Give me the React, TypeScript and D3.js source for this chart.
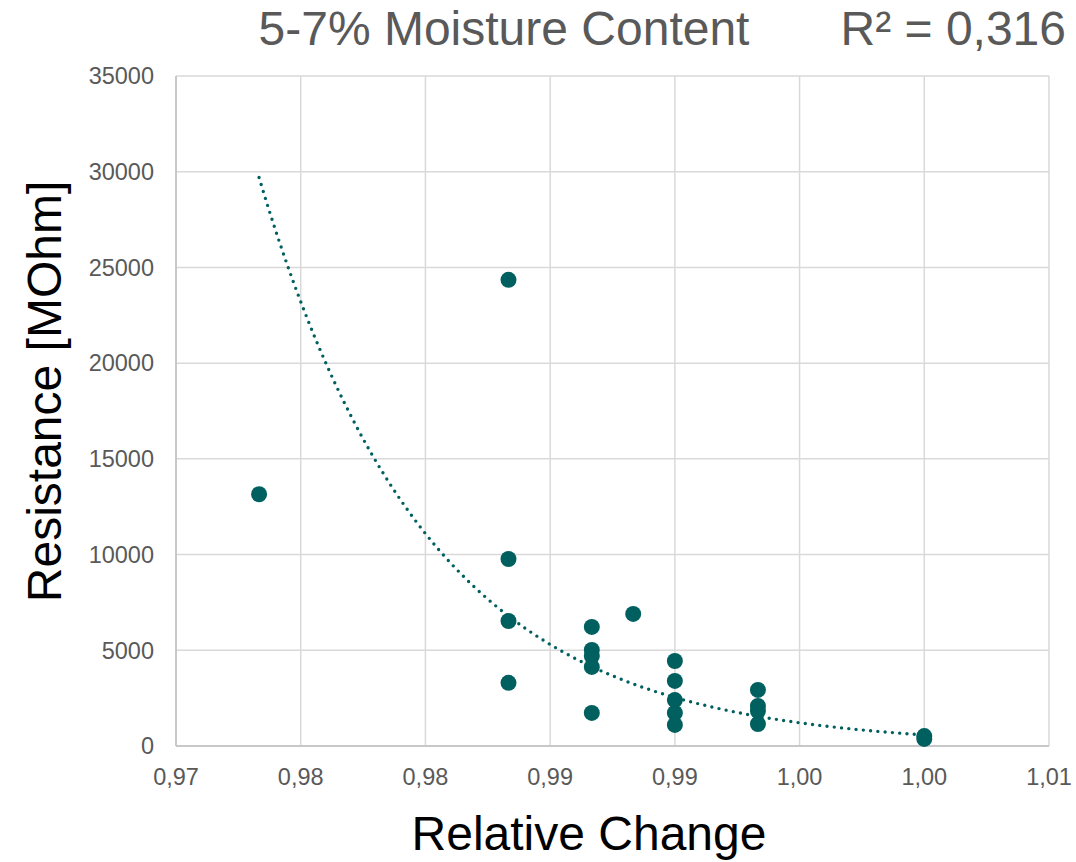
import React from "react";
import * as d3 from "d3";

const xValues = [
  0.97333, 0.98333, 0.98333, 0.98333, 0.98333,
  0.98667, 0.98667, 0.98667, 0.98667, 0.98667,
  0.98833,
  0.99, 0.99, 0.99, 0.99, 0.99,
  0.99333, 0.99333, 0.99333, 0.99333,
  1.0, 1.0,
];
const yValues = [
  13150, 24350, 9770, 6530, 3300,
  6220, 5020, 4700, 4130, 1730,
  6900,
  4440, 3400, 2400, 1730, 1100,
  2930, 2090, 1830, 1150,
  520, 370,
];
const xTicks = [0.97, 0.975, 0.98, 0.985, 0.99, 0.995, 1.0, 1.005];
const yTicks = [0, 5000, 10000, 15000, 20000, 25000, 30000, 35000];
// exponential trendline as drawn: y = trendStart * exp(trendRate * (x - x0))
const trendStart = 29700;
const trendRate = -147.6;
const titleText = "5-7% Moisture Content";
const r2Text = "R² = 0,316";
const xTitle = "Relative Change";
const yTitle = "Resistance [MOhm]";

export default function App() {
  const W = 1076, H = 862;
  const left = 176, right = 1049, top = 76, bottom = 746;
  const x = d3.scaleLinear().domain([0.97, 1.005]).range([left, right]);
  const y = d3.scaleLinear().domain([0, 35000]).range([bottom, top]);

  const x0 = d3.min(xValues)!, x1 = d3.max(xValues)!;
  const trend = d3.range(0, 201).map((i) => {
    const xv = x0 + ((x1 - x0) * i) / 200;
    return [xv, trendStart * Math.exp(trendRate * (xv - x0))] as [number, number];
  });
  const line = d3.line<[number, number]>().x((d) => x(d[0])).y((d) => y(d[1]));

  const fmtX = (v: number) => (Math.round(v * 100 + 1e-9) / 100).toFixed(2).replace(".", ",");

  const font = "'Liberation Sans', Arial, sans-serif";
  return (
    <svg width={W} height={H} style={{ position: "absolute", left: 0, top: 0, background: "#fff" }} fontFamily={font}>
      <rect x={0} y={0} width={W} height={H} fill="#fff" />
      {xTicks.map((t) => (
        <line key={"gx" + t} x1={x(t)} x2={x(t)} y1={top} y2={bottom} stroke="#d9d9d9" strokeWidth={1.5} />
      ))}
      {yTicks.map((t) => (
        <line key={"gy" + t} x1={left} x2={right} y1={y(t)} y2={y(t)} stroke="#d9d9d9" strokeWidth={1.5} />
      ))}
      <line x1={left} x2={left} y1={top} y2={bottom} stroke="#bfbfbf" strokeWidth={1.5} />
      <line x1={left} x2={right} y1={bottom} y2={bottom} stroke="#bfbfbf" strokeWidth={1.5} />
      {yTicks.map((t) => (
        <text key={"ty" + t} x={154} y={y(t)} dy="0.35em" textAnchor="end" fontSize={23.5} fill="#595959">
          {t}
        </text>
      ))}
      {xTicks.map((t) => (
        <text key={"tx" + t} x={x(t)} y={785} textAnchor="middle" fontSize={23.5} fill="#595959">
          {fmtX(t)}
        </text>
      ))}
      <path d={line(trend) || ""} fill="none" stroke="#005f5f" strokeWidth={3.4} strokeLinecap="round" strokeDasharray="0 7.3" />
      {xValues.map((xv, i) => (
        <circle key={"p" + i} cx={x(xv)} cy={y(yValues[i])} r={8} fill="#005f5f" />
      ))}
      <text x={504} y={45} textAnchor="middle" fontSize={48} fill="#595959">{titleText}</text>
      <text x={1066} y={45} textAnchor="end" fontSize={48} fill="#595959">{r2Text}</text>
      <text x={589} y={850} textAnchor="middle" fontSize={48} fill="#000">{xTitle}</text>
      <text transform={`translate(61,391.5) rotate(-90)`} textAnchor="middle" fontSize={48} fill="#000">{yTitle}</text>
    </svg>
  );
}
